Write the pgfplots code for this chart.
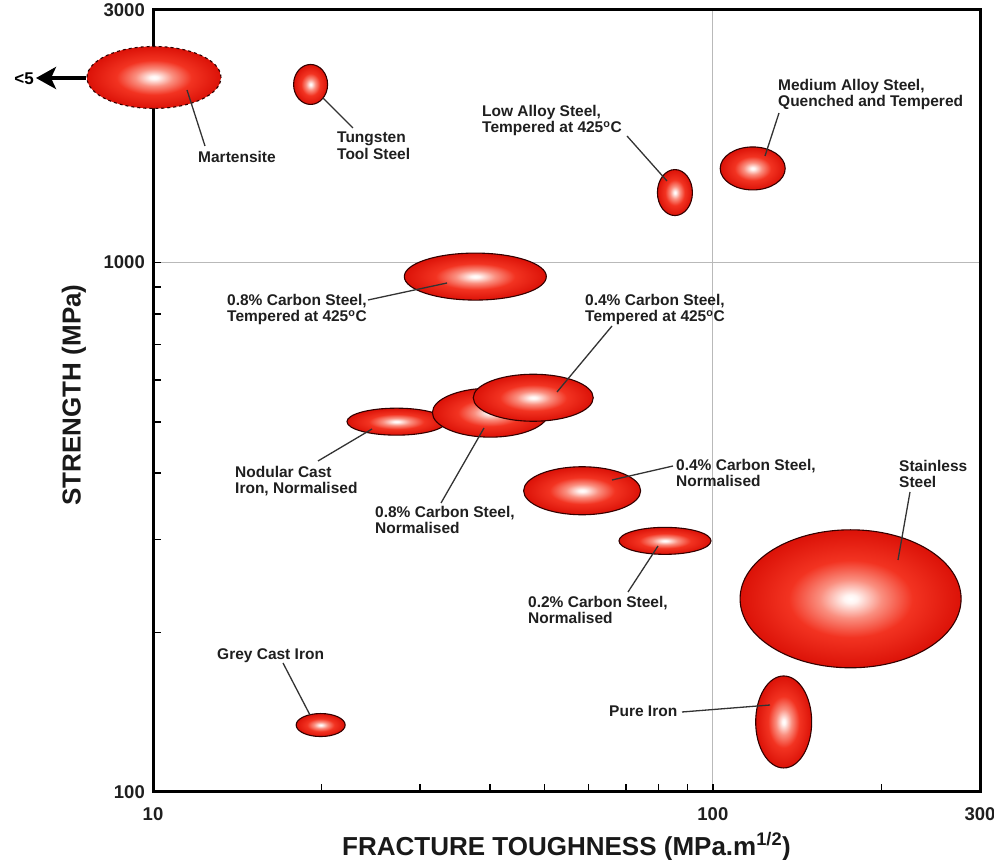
\documentclass[border=0pt]{standalone}
\usepackage{fontspec}
\setmainfont{Liberation Sans}
\usepackage{pgfplots}
\pgfplotsset{compat=1.18}
\usepackage{pgfplotstable}
\usetikzlibrary{shapes.geometric, arrows.meta}

\pgfdeclareradialshading{blob}{\pgfpointorigin}{%
  rgb(0bp)=(1,1,1); rgb(1.5bp)=(1,0.96,0.95); rgb(7bp)=(0.98,0.56,0.5);
  rgb(14bp)=(0.95,0.2,0.13); rgb(25bp)=(0.86,0.07,0.03); rgb(50bp)=(0.86,0.07,0.03)}

\newcommand\lab{\fontsize{15.5}{16.5}\selectfont\bfseries}

% centre (x = fracture toughness, y = strength) and ellipse size in pt
\pgfplotstableread{
x      y      w    h
19.12  2170   34   40
85.55  1356   35   46
117.8  1506   65   43
37.65  940.9  142  47
27.22  500.6  99   27
40.05  520.6  116  49
47.77  555.5  120  47
58.41  370.7  117  48
82.12  298.1  92   27
176.2  231.7  221  138
133.8  135.6  56   92
19.93  133.8  49   23
}\blobs
\pgfplotstableread{
x      y      w    h
10.04  2237   134  62
}\martensite

\begin{document}
\begin{tikzpicture}
\begin{axis}[
  at={(0pt,0pt)}, anchor=south west,
  scale only axis, width=827pt, height=782pt,
  xmode=log, ymode=log,
  xmin=10, xmax=300, ymin=100, ymax=3000,
  xtick={10,100,300}, xticklabels={10,100,300},
  ytick={100,1000,3000}, yticklabels={100,1000,3000},
  minor xtick={20,30,40,50,60,70,80,90,200},
  minor ytick={200,300,400,500,600,700,800,900,2000},
  xtick pos=bottom, ytick pos=left,
  tick align=inside,
  major tick length=8pt, minor tick length=8pt,
  tick style={black, line width=1.5pt},
  grid=major, major grid style={gray!55, line width=0.8pt},
  axis line style={line width=3pt},
  ticklabel style={font=\fontsize{18.5}{18.5}\selectfont\bfseries, text=black!88},
  xticklabel style={anchor=north, inner sep=0pt, yshift=-15pt},
  yticklabel style={anchor=east, inner sep=0pt, xshift=-8pt},
  xlabel={FRACTURE TOUGHNESS (MPa.m\textsuperscript{1/2})},
  ylabel={STRENGTH (MPa)},
  label style={font=\fontsize{26}{26}\selectfont\bfseries, text=black!90},
  xlabel style={at={(axis description cs:0.5,-0.0806)}, anchor=base},
  ylabel style={at={(axis description cs:-0.0955,0.5077)}, anchor=center, rotate=0},
  clip=false,
  visualization depends on={\thisrow{w} \as \bw},
  visualization depends on={\thisrow{h} \as \bh},
]
\addplot[only marks, mark=none, nodes near coords={},
  every node near coord/.style={ellipse, anchor=center, inner sep=0pt,
    minimum width=\bw pt, minimum height=\bh pt, shading=blob,
    draw=black!80!red, line width=1.1pt, dashed}]
  table[x=x, y=y] {\martensite};
\addplot[only marks, mark=none, nodes near coords={},
  every node near coord/.style={ellipse, anchor=center, inner sep=0pt,
    minimum width=\bw pt, minimum height=\bh pt, shading=blob,
    draw=black!80!red, line width=1.1pt}]
  table[x=x, y=y] {\blobs};
\end{axis}

\begin{scope}[x=1pt, y=-1pt, shift={(-153pt,792pt)}]
  % <5 arrow
  \draw[line width=4.5pt, black, -{Stealth[length=20pt, width=22pt, inset=5pt]}] (86,78) -- (36,78);
  \node[anchor=east, inner sep=0pt, font=\fontsize{17}{17}\selectfont\bfseries] at (34,79) {<5};
  % leader lines
  \begin{scope}[line width=1.3pt, black!80]
    \draw (187,90) -- (205,146);
    \draw (323,98) -- (353,128);
    \draw (627,136) -- (667,181);
    \draw (779,113) -- (765,156);
    \draw (368,300) -- (447,283);
    \draw (612,326) -- (557,392);
    \draw (318,461) -- (372,429);
    \draw (441,503) -- (484,428);
    \draw (673,466) -- (612,480);
    \draw (628,592) -- (658,546);
    \draw (910,492) -- (898,560);
    \draw (682,712) -- (770,705);
    \draw (283,663) -- (310,715);
  \end{scope}
  % labels
  \begin{scope}[every node/.style={anchor=north west, inner sep=0pt, align=left, font=\lab, text=black!88}]
    \node at (198,151) {Martensite};
    \node at (337,132) {Tungsten\\Tool Steel};
    \node at (482,105) {Low Alloy Steel,\\Tempered at 425\textsuperscript{o}C};
    \node at (778,79) {Medium Alloy Steel,\\Quenched and Tempered};
    \node at (227,294) {0.8\% Carbon Steel,\\Tempered at 425\textsuperscript{o}C};
    \node at (585,294) {0.4\% Carbon Steel,\\Tempered at 425\textsuperscript{o}C};
    \node at (235,466) {Nodular Cast\\Iron, Normalised};
    \node at (375,506) {0.8\% Carbon Steel,\\Normalised};
    \node at (676,459) {0.4\% Carbon Steel,\\Normalised};
    \node at (528,596) {0.2\% Carbon Steel,\\Normalised};
    \node at (899,460) {Stainless\\Steel};
    \node at (609,706) {Pure Iron};
    \node at (217,648) {Grey Cast Iron};
  \end{scope}
\end{scope}
\pgfresetboundingbox
\useasboundingbox (-153pt,-68pt) rectangle (841pt,792pt);
\end{tikzpicture}
\end{document}
